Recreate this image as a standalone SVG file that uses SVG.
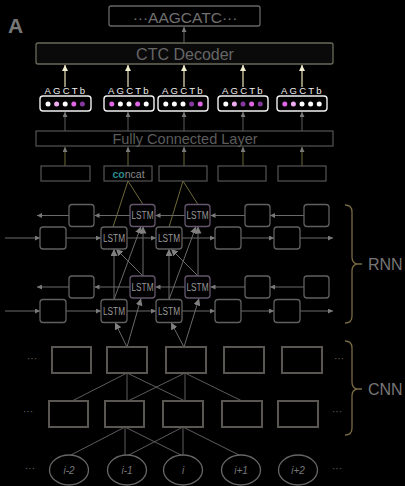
<svg xmlns="http://www.w3.org/2000/svg" width="405" height="486" viewBox="0 0 405 486">
<defs>
<style>
text{font-family:"Liberation Sans",Arial,sans-serif}
.bx{fill:#000;stroke:#606060;stroke-width:1.3}
.lp{fill:#000;stroke:#64566e;stroke-width:1.3}
.pb{fill:#000;stroke:#f2f2f2;stroke-width:1.4}
.cc{fill:#000;stroke:#555;stroke-width:1.2}
.cn{fill:#000;stroke:#5a5752;stroke-width:2}
.el{fill:#000;stroke:#666;stroke-width:1.3}
.ln{stroke:#6a6a6a;stroke-width:1;fill:none}
.lg{stroke:#5c5c5c;stroke-width:1;fill:none}
.ol{stroke:#6e6838;stroke-width:1;fill:none}
.cr{stroke:#ece4b8;stroke-width:1.2;fill:none}
.br{stroke:#7a6a42;stroke-width:1.3;fill:none}
.lt{font-size:10px;fill:#9a9a9a;text-anchor:middle}
.dt{font-size:10px;fill:#666;text-anchor:middle}
.il{font-size:10px;fill:#777;text-anchor:middle;font-style:italic}
.ab{font-size:9.5px;fill:#eee;letter-spacing:2.2px}
.w{fill:#fff}.lpk{fill:#f0acf0}.mg{fill:#e066e6}.pu{fill:#86389e}
</style>
<marker id="ag" viewBox="0 0 6 6" refX="6" refY="3" markerWidth="5" markerHeight="5" orient="auto" markerUnits="userSpaceOnUse"><path d="M0,0L6,3L0,6z" fill="#7a7a7a"/></marker>
<marker id="agl" viewBox="0 0 6 6" refX="6" refY="3" markerWidth="7" markerHeight="7" orient="auto" markerUnits="userSpaceOnUse"><path d="M0,0L6,3L0,6z" fill="#808080"/></marker>
<marker id="ac" viewBox="0 0 6 6" refX="6" refY="3" markerWidth="6" markerHeight="6" orient="auto" markerUnits="userSpaceOnUse"><path d="M0,0L6,3L0,6z" fill="#f4eed0"/></marker>
</defs>
<rect width="405" height="486" fill="#000"/>
<text x="8" y="33" font-size="21" font-weight="bold" fill="#777">A</text>

<g id="connectors">
<line class="ln" x1="184" y1="43" x2="184" y2="27" marker-end="url(#ag)"/>
<g class="cr">
<line x1="65" y1="87" x2="65" y2="65" marker-end="url(#ac)"/>
<line x1="128" y1="87" x2="128" y2="65" marker-end="url(#ac)"/>
<line x1="184" y1="87" x2="184" y2="65" marker-end="url(#ac)"/>
<line x1="243" y1="87" x2="243" y2="65" marker-end="url(#ac)"/>
<line x1="302" y1="87" x2="302" y2="65" marker-end="url(#ac)"/>
</g>
<g class="lg">
<line x1="65" y1="131" x2="65" y2="112" marker-end="url(#ag)"/>
<line x1="128" y1="131" x2="128" y2="112" marker-end="url(#ag)"/>
<line x1="184" y1="131" x2="184" y2="112" marker-end="url(#ag)"/>
<line x1="243" y1="131" x2="243" y2="112" marker-end="url(#ag)"/>
<line x1="302" y1="131" x2="302" y2="112" marker-end="url(#ag)"/>
</g>
<g class="ol">
<line x1="65" y1="166" x2="65" y2="147" marker-end="url(#ag)"/>
<line x1="128" y1="166" x2="128" y2="147" marker-end="url(#ag)"/>
<line x1="184" y1="166" x2="184" y2="147" marker-end="url(#ag)"/>
<line x1="243" y1="166" x2="243" y2="147" marker-end="url(#ag)"/>
<line x1="302" y1="166" x2="302" y2="147" marker-end="url(#ag)"/>
<line x1="128" y1="181" x2="113" y2="227"/>
<line x1="128" y1="181" x2="143" y2="204.5"/>
<line x1="183" y1="181" x2="169" y2="227"/>
<line x1="183" y1="181" x2="198" y2="204.5"/>
</g>
<g class="ln">
<line x1="304" y1="215.5" x2="270" y2="215.5" marker-end="url(#ag)"/>
<line x1="245" y1="215.5" x2="210.5" y2="215.5" marker-end="url(#ag)"/>
<line x1="185" y1="215.5" x2="155.5" y2="215.5" marker-end="url(#ag)"/>
<line x1="130" y1="215.5" x2="94.5" y2="215.5" marker-end="url(#ag)"/>
<line x1="69" y1="215.5" x2="37" y2="215.5" marker-end="url(#ag)"/>
<line x1="5" y1="238" x2="40" y2="238" marker-end="url(#ag)"/>
<line x1="66" y1="238" x2="101" y2="238" marker-end="url(#ag)"/>
<line x1="127" y1="238" x2="156" y2="238" marker-end="url(#ag)"/>
<line x1="182" y1="238" x2="215" y2="238" marker-end="url(#ag)"/>
<line x1="241" y1="238" x2="274" y2="238" marker-end="url(#ag)"/>
<line x1="300" y1="238" x2="333" y2="238" marker-end="url(#ag)"/>
<line x1="304" y1="287" x2="270" y2="287" marker-end="url(#ag)"/>
<line x1="245" y1="287" x2="210.5" y2="287" marker-end="url(#ag)"/>
<line x1="185" y1="287" x2="155.5" y2="287" marker-end="url(#ag)"/>
<line x1="130" y1="287" x2="94.5" y2="287" marker-end="url(#ag)"/>
<line x1="69" y1="287" x2="37" y2="287" marker-end="url(#ag)"/>
<line x1="5" y1="311" x2="40" y2="311" marker-end="url(#ag)"/>
<line x1="66" y1="311" x2="101" y2="311" marker-end="url(#ag)"/>
<line x1="127" y1="311" x2="156" y2="311" marker-end="url(#ag)"/>
<line x1="182" y1="311" x2="215" y2="311" marker-end="url(#ag)"/>
<line x1="241" y1="311" x2="274" y2="311" marker-end="url(#ag)"/>
<line x1="300" y1="311" x2="333" y2="311" marker-end="url(#ag)"/>
<line x1="114" y1="299.5" x2="114" y2="249" marker-end="url(#agl)"/>
<line x1="143" y1="276" x2="143" y2="226.5" marker-end="url(#agl)"/>
<line x1="143" y1="276" x2="116" y2="249" marker-end="url(#agl)"/>
<line x1="114" y1="299.5" x2="141" y2="226.5" marker-end="url(#agl)"/>
<line x1="169" y1="299.5" x2="169" y2="249" marker-end="url(#agl)"/>
<line x1="198" y1="276" x2="198" y2="226.5" marker-end="url(#agl)"/>
<line x1="198" y1="276" x2="171" y2="249" marker-end="url(#agl)"/>
<line x1="169" y1="299.5" x2="196" y2="226.5" marker-end="url(#agl)"/>
<line x1="127" y1="347" x2="115" y2="322.5" marker-end="url(#agl)"/>
<line x1="127" y1="347" x2="141" y2="298.5" marker-end="url(#agl)"/>
<line x1="184" y1="347" x2="171" y2="322.5" marker-end="url(#agl)"/>
<line x1="184" y1="347" x2="199" y2="298.5" marker-end="url(#agl)"/>
</g>
<g class="lg">
<line x1="127" y1="373" x2="72" y2="401"/>
<line x1="127" y1="373" x2="127" y2="401"/>
<line x1="127" y1="373" x2="185" y2="401"/>
<line x1="185" y1="373" x2="128" y2="401"/>
<line x1="185" y1="373" x2="185" y2="401"/>
<line x1="185" y1="373" x2="242" y2="401"/>
<line x1="125" y1="427" x2="69" y2="456"/>
<line x1="125" y1="427" x2="125" y2="456"/>
<line x1="125" y1="427" x2="183" y2="456"/>
<line x1="183" y1="427" x2="127" y2="456"/>
<line x1="183" y1="427" x2="183" y2="456"/>
<line x1="183" y1="427" x2="241" y2="456"/>
</g>
</g>

<g id="output-seq"><rect x="109" y="6" width="151" height="20" rx="2" fill="#000" stroke="#666" stroke-width="1.3"/><text x="185" y="22.5" font-size="15.5" fill="#707070" text-anchor="middle">···AAGCATC···</text></g>
<g id="ctc-decoder"><rect x="36" y="43" width="297" height="21" rx="2" fill="#0a0a0a" stroke="#6a6a5a" stroke-width="1.3"/><text x="185" y="60" font-size="16" fill="#666" text-anchor="middle">CTC Decoder</text></g>

<g id="prob1"><text class="ab" x="44.5" y="94">AGCTb</text><rect class="pb" x="40" y="96" width="51" height="15" rx="3"/><circle class="w" cx="48" cy="104" r="2.5"/><circle class="lpk" cx="56.6" cy="104" r="2.5"/><circle class="w" cx="65.2" cy="104" r="2.5"/><circle class="mg" cx="73.8" cy="104" r="2.5"/><circle class="pu" cx="82.4" cy="104" r="2.5"/></g>
<g id="prob2"><text class="ab" x="108" y="94">AGCTb</text><rect class="pb" x="104" y="96" width="50" height="15" rx="3"/><circle class="mg" cx="111.8" cy="104" r="2.5"/><circle class="w" cx="120.4" cy="104" r="2.5"/><circle class="w" cx="129" cy="104" r="2.5"/><circle class="mg" cx="137.6" cy="104" r="2.5"/><circle class="w" cx="146.2" cy="104" r="2.5"/></g>
<g id="prob3"><text class="ab" x="162" y="94">AGCTb</text><rect class="pb" x="158" y="96" width="50" height="15" rx="3"/><circle class="w" cx="165.8" cy="104" r="2.5"/><circle class="w" cx="174.4" cy="104" r="2.5"/><circle class="w" cx="183" cy="104" r="2.5"/><circle class="pu" cx="191.6" cy="104" r="2.5"/><circle class="mg" cx="200.2" cy="104" r="2.5"/></g>
<g id="prob4"><text class="ab" x="222" y="94">AGCTb</text><rect class="pb" x="218" y="96" width="50" height="15" rx="3"/><circle class="w" cx="225.8" cy="104" r="2.5"/><circle class="lpk" cx="234.4" cy="104" r="2.5"/><circle class="pu" cx="243" cy="104" r="2.5"/><circle class="mg" cx="251.6" cy="104" r="2.5"/><circle class="pu" cx="260.2" cy="104" r="2.5"/></g>
<g id="prob5"><text class="ab" x="281" y="94">AGCTb</text><rect class="pb" x="277" y="96" width="50" height="15" rx="3"/><circle class="mg" cx="284.8" cy="104" r="2.5"/><circle class="lpk" cx="293.4" cy="104" r="2.5"/><circle class="w" cx="302" cy="104" r="2.5"/><circle class="w" cx="310.6" cy="104" r="2.5"/><circle class="w" cx="319.2" cy="104" r="2.5"/></g>

<g id="fc-layer"><rect x="36" y="131" width="297" height="15" fill="#000" stroke="#555" stroke-width="1.2"/><text x="185" y="143.5" font-size="14.5" fill="#5c5c5c" text-anchor="middle">Fully Connected Layer</text></g>

<g id="concat1"><rect class="cc" x="41" y="166" width="49" height="15"/></g>
<g id="concat2"><rect class="cc" x="104" y="166" width="48" height="15"/><text x="128.5" y="177.5" font-size="10.5" fill="#8a8a8a" text-anchor="middle"><tspan fill="#2a8c8c" font-weight="bold">co</tspan>ncat</text></g>
<g id="concat3"><rect class="cc" x="159" y="166" width="48" height="15"/></g>
<g id="concat4"><rect class="cc" x="218" y="166" width="48" height="15"/></g>
<g id="concat5"><rect class="cc" x="278" y="166" width="48" height="15"/></g>

<g id="rnn2-bwd">
<rect class="bx" x="69" y="204.5" width="25" height="22" rx="3"/>
<g id="lstm-a1"><rect class="lp" x="130" y="204.5" width="25" height="22" rx="3"/><text class="lt" x="142.5" y="219" textLength="22" lengthAdjust="spacingAndGlyphs">LSTM</text></g>
<g id="lstm-a2"><rect class="lp" x="185" y="204.5" width="25" height="22" rx="3"/><text class="lt" x="197.5" y="219" textLength="22" lengthAdjust="spacingAndGlyphs">LSTM</text></g>
<rect class="bx" x="245" y="204.5" width="25" height="22" rx="3"/>
<rect class="bx" x="304" y="204.5" width="25" height="22" rx="3"/>
</g>
<g id="rnn2-fwd">
<rect class="bx" x="40" y="227" width="26" height="22" rx="3"/>
<g id="lstm-b1"><rect class="bx" x="101" y="227" width="26" height="22" rx="3"/><text class="lt" x="114" y="241.5" textLength="22" lengthAdjust="spacingAndGlyphs">LSTM</text></g>
<g id="lstm-b2"><rect class="bx" x="156" y="227" width="26" height="22" rx="3"/><text class="lt" x="169" y="241.5" textLength="22" lengthAdjust="spacingAndGlyphs">LSTM</text></g>
<rect class="bx" x="215" y="227" width="26" height="22" rx="3"/>
<rect class="bx" x="274" y="227" width="26" height="22" rx="3"/>
</g>
<g id="rnn1-bwd">
<rect class="bx" x="69" y="276" width="25" height="22" rx="3"/>
<g id="lstm-c1"><rect class="lp" x="130" y="276" width="25" height="22" rx="3"/><text class="lt" x="142.5" y="290.5" textLength="22" lengthAdjust="spacingAndGlyphs">LSTM</text></g>
<g id="lstm-c2"><rect class="lp" x="185" y="276" width="25" height="22" rx="3"/><text class="lt" x="197.5" y="290.5" textLength="22" lengthAdjust="spacingAndGlyphs">LSTM</text></g>
<rect class="bx" x="245" y="276" width="25" height="22" rx="3"/>
<rect class="bx" x="304" y="276" width="25" height="22" rx="3"/>
</g>
<g id="rnn1-fwd">
<rect class="bx" x="40" y="299.5" width="26" height="23" rx="3"/>
<g id="lstm-d1"><rect class="bx" x="101" y="299.5" width="26" height="23" rx="3"/><text class="lt" x="114" y="314.5" textLength="22" lengthAdjust="spacingAndGlyphs">LSTM</text></g>
<g id="lstm-d2"><rect class="bx" x="156" y="299.5" width="26" height="23" rx="3"/><text class="lt" x="169" y="314.5" textLength="22" lengthAdjust="spacingAndGlyphs">LSTM</text></g>
<rect class="bx" x="215" y="299.5" width="26" height="23" rx="3"/>
<rect class="bx" x="274" y="299.5" width="26" height="23" rx="3"/>
</g>

<g id="cnn-top">
<text class="dt" x="32" y="362">···</text>
<rect class="cn" x="52" y="347" width="39" height="26"/>
<rect class="cn" x="107" y="347" width="40" height="26"/>
<rect class="cn" x="166" y="347" width="40" height="26"/>
<rect class="cn" x="224" y="347" width="40" height="26"/>
<rect class="cn" x="282" y="347" width="40" height="26"/>
<text class="dt" x="339" y="362">···</text>
</g>
<g id="cnn-bottom">
<text class="dt" x="28" y="415">···</text>
<rect class="cn" x="49" y="401" width="39" height="26"/>
<rect class="cn" x="105" y="401" width="39" height="26"/>
<rect class="cn" x="163" y="401" width="40" height="26"/>
<rect class="cn" x="222" y="401" width="40" height="26"/>
<rect class="cn" x="278" y="401" width="40" height="26"/>
<text class="dt" x="337" y="415">···</text>
</g>
<g id="inputs">
<text class="dt" x="30" y="472">···</text>
<g id="in-m2"><ellipse class="el" cx="69" cy="470" rx="19.5" ry="15"/><text class="il" x="69" y="474">i-2</text></g>
<g id="in-m1"><ellipse class="el" cx="127" cy="470" rx="19.5" ry="15"/><text class="il" x="127" y="474">i-1</text></g>
<g id="in-0"><ellipse class="el" cx="183" cy="470" rx="19.5" ry="15"/><text class="il" x="183" y="474">i</text></g>
<g id="in-p1"><ellipse class="el" cx="241" cy="470" rx="19.5" ry="15"/><text class="il" x="241" y="474">i+1</text></g>
<g id="in-p2"><ellipse class="el" cx="298" cy="470" rx="19.5" ry="15"/><text class="il" x="298" y="474">i+2</text></g>
<text class="dt" x="337" y="472">···</text>
</g>

<g id="rnn-brace"><path class="br" d="M345,205 Q352,205 352,212 L352,257 Q352,263 357,264 L362,264 M357,264 Q352,265 352,271 L352,316 Q352,323 345,323"/><text x="368" y="270" font-size="16" fill="#777">RNN</text></g>
<g id="cnn-brace"><path class="br" d="M345,341 Q352,341 352,348 L352,382 Q352,388 357,389 L362,389 M357,389 Q352,390 352,396 L352,428 Q352,435 345,435"/><text x="368" y="395" font-size="16" fill="#777">CNN</text></g>
</svg>
